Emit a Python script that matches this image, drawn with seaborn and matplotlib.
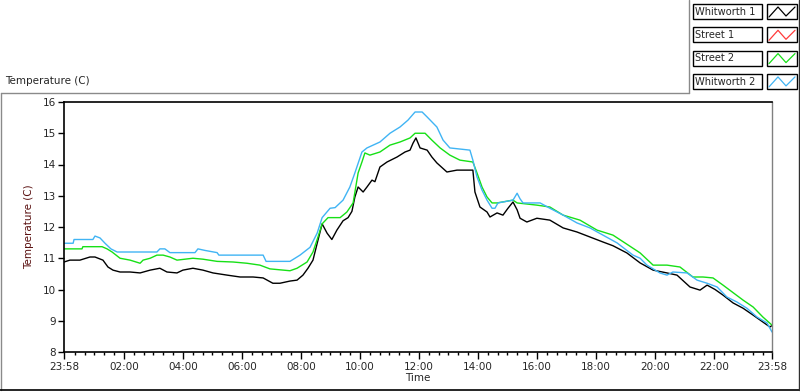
import numpy as np
import pandas as pd
import matplotlib
matplotlib.use("Agg")
import matplotlib.pyplot as plt
from matplotlib.patches import Rectangle
from matplotlib.lines import Line2D
import seaborn as sns

series_names = ["Whitworth 1", "Street 1", "Street 2", "Whitworth 2"]
series_colors = ["#000000", "#ff3b3b", "#16e016", "#40b4f4"]

# time axis: hours elapsed since 23:58
whitworth1_t = [0.00, 0.20, 0.54, 0.88, 1.05, 1.32, 1.49, 1.66, 1.90, 2.24, 2.58, 2.92,
                3.25, 3.49, 3.83, 4.03, 4.37, 4.71, 5.05, 5.53, 5.97, 6.41, 6.75, 7.08,
                7.32, 7.66, 7.90, 8.10, 8.27, 8.44, 8.61, 8.75, 8.92, 9.08, 9.25, 9.46,
                9.63, 9.76, 9.86, 9.97, 10.14, 10.27, 10.44, 10.54, 10.71, 10.95, 11.29,
                11.56, 11.73, 11.83, 11.93, 12.07, 12.31, 12.47, 12.64, 12.98, 13.32,
                13.66, 13.86, 13.93, 14.10, 14.34, 14.44, 14.68, 14.88, 15.05, 15.22,
                15.36, 15.46, 15.69, 16.03, 16.47, 16.92, 17.39, 17.83, 18.27, 18.61,
                19.08, 19.53, 19.97, 20.44, 20.78, 21.22, 21.56, 21.80, 22.07, 22.34,
                22.68, 23.02, 23.36, 23.69, 23.93, 24.00]
whitworth1_v = [10.88, 10.94, 10.94, 11.04, 11.04, 10.94, 10.72, 10.62, 10.56, 10.56, 10.53, 10.62,
                10.68, 10.56, 10.53, 10.62, 10.68, 10.62, 10.53, 10.46, 10.40, 10.40, 10.37, 10.20,
                10.20, 10.27, 10.30, 10.46, 10.68, 10.94, 11.58, 12.10, 11.80, 11.60, 11.90, 12.20,
                12.30, 12.50, 12.96, 13.28, 13.12, 13.28, 13.50, 13.45, 13.92, 14.08, 14.24,
                14.40, 14.46, 14.68, 14.85, 14.53, 14.46, 14.24, 14.05, 13.76, 13.82,
                13.82, 13.82, 13.12, 12.64, 12.48, 12.32, 12.45, 12.38, 12.60, 12.80,
                12.55, 12.28, 12.16, 12.28, 12.22, 11.97, 11.84, 11.68, 11.52, 11.40,
                11.17, 10.85, 10.62, 10.53, 10.46, 10.08, 9.98, 10.14, 10.00, 9.82,
                9.57, 9.40, 9.18, 8.96, 8.80, 8.85]

street1_t = []
street1_v = []

street2_t = [0.00, 0.61, 0.64, 1.29, 1.46, 1.63, 1.90, 2.24, 2.58, 2.68, 2.92, 3.15, 3.36,
             3.59, 3.83, 4.37, 4.71, 5.19, 5.73, 6.20, 6.64, 6.98, 7.66, 7.90, 8.24, 8.44,
             8.61, 8.75, 8.95, 9.36, 9.59, 9.80, 9.97, 10.10, 10.20, 10.37, 10.71, 11.05,
             11.39, 11.73, 11.90, 12.24, 12.47, 12.75, 13.08, 13.42, 13.86, 14.00, 14.17,
             14.34, 14.51, 14.68, 15.22, 15.36, 16.03, 16.47, 16.92, 17.49, 18.07, 18.61,
             19.08, 19.53, 19.97, 20.44, 20.88, 21.32, 21.66, 22.00, 22.34, 22.68, 23.02,
             23.36, 23.69, 24.00]
street2_v = [11.30, 11.30, 11.37, 11.37, 11.30, 11.20, 11.00, 10.94, 10.84, 10.94, 11.00, 11.10, 11.10,
             11.04, 10.94, 11.00, 10.97, 10.90, 10.88, 10.84, 10.78, 10.66, 10.60, 10.68, 10.88, 11.20,
             11.68, 12.10, 12.30, 12.30, 12.48, 12.77, 13.73, 14.08, 14.37, 14.30, 14.40, 14.62,
             14.72, 14.85, 15.00, 15.00, 14.78, 14.53, 14.30, 14.14, 14.08, 13.73, 13.28,
             12.96, 12.77, 12.77, 12.86, 12.77, 12.70, 12.64, 12.38, 12.22, 11.90, 11.74,
             11.45, 11.17, 10.78, 10.78, 10.72, 10.40, 10.40, 10.37, 10.14, 9.90, 9.66,
             9.44, 9.12, 8.86]

whitworth2_t = [0.00, 0.31, 0.34, 0.98, 1.05, 1.22, 1.39, 1.59, 1.80, 3.15, 3.25, 3.42, 3.59,
                4.44, 4.54, 4.78, 5.19, 5.25, 6.75, 6.85, 7.66, 8.00, 8.34, 8.58, 8.75, 9.02,
                9.19, 9.46, 9.69, 9.86, 10.10, 10.27, 10.71, 11.05, 11.39, 11.66, 11.90, 12.14,
                12.31, 12.64, 12.85, 13.08, 13.76, 13.86, 14.00, 14.17, 14.34, 14.51, 14.61,
                14.71, 15.22, 15.36, 15.46, 15.56, 16.14, 16.47, 16.92, 17.39, 17.83, 18.27,
                18.75, 19.08, 19.29, 19.53, 19.76, 20.20, 20.44, 20.64, 21.12, 21.46, 21.80,
                22.14, 22.47, 22.81, 23.15, 23.49, 23.83, 24.00]
whitworth2_v = [11.48, 11.48, 11.60, 11.60, 11.71, 11.65, 11.48, 11.30, 11.20, 11.20, 11.30, 11.30, 11.18,
                11.18, 11.30, 11.25, 11.18, 11.10, 11.10, 10.90, 10.90, 11.10, 11.35, 11.80, 12.30, 12.60,
                12.62, 12.86, 13.28, 13.73, 14.40, 14.53, 14.72, 15.00, 15.20, 15.42, 15.68, 15.68,
                15.52, 15.20, 14.78, 14.53, 14.46, 14.14, 13.60, 13.18, 12.86, 12.60, 12.60,
                12.77, 12.86, 13.08, 12.90, 12.77, 12.77, 12.60, 12.38, 12.13, 11.97, 11.74,
                11.49, 11.25, 11.10, 11.00, 10.78, 10.53, 10.46, 10.56, 10.53, 10.30, 10.20,
                10.08, 9.76, 9.60, 9.40, 9.12, 8.93, 8.64]

x_major_pos = [0.0, 2.0333, 4.0333, 6.0333, 8.0333, 10.0333, 12.0333, 14.0333, 16.0333,
               18.0333, 20.0333, 22.0333, 24.0]
x_major_labels = ["23:58", "02:00", "04:00", "06:00", "08:00", "10:00", "12:00", "14:00",
                  "16:00", "18:00", "20:00", "22:00", "23:58"]
y_ticks = [8, 9, 10, 11, 12, 13, 14, 15, 16]

frames = []
for name, t, v in [("Whitworth 1", whitworth1_t, whitworth1_v),
                   ("Street 1", street1_t, street1_v),
                   ("Street 2", street2_t, street2_v),
                   ("Whitworth 2", whitworth2_t, whitworth2_v)]:
    frames.append(pd.DataFrame({"hours": t, "temp": v, "series": name}))
df = pd.concat([f for f in frames if len(f)], ignore_index=True)
palette = dict(zip(series_names, series_colors))

sns.set_style("white")
plt.rcParams["font.family"] = ["DejaVu Sans"]
fs = 7.5

fig = plt.figure(figsize=(8, 3.92), dpi=100)
ax = fig.add_axes([64 / 800, 40 / 392, 708 / 800, 250 / 392])

for name in series_names:
    sub = df[df["series"] == name]
    if len(sub) == 0:
        continue
    sns.lineplot(data=sub, x="hours", y="temp", color=palette[name], lw=1.0,
                 estimator=None, sort=False, ax=ax)

ax.set_xlim(0, 24)
ax.set_ylim(8, 16)
ax.set_xticks(x_major_pos, x_major_labels)
minor = [m / 3 + 2 / 60 for m in range(1, 72) if m % 6 != 0]
ax.set_xticks(minor, minor=True)
ax.set_yticks(y_ticks, [str(v) for v in y_ticks])
ax.tick_params(axis="both", which="major", direction="out", length=4, width=1,
               color="black", labelsize=fs, pad=2, bottom=True, left=True)
ax.tick_params(axis="x", which="minor", direction="out", length=2.5, width=1,
               color="black", bottom=True)
ax.tick_params(axis="x", which="major", length=5)
for side in ["left", "bottom", "top"]:
    ax.spines[side].set_color("black")
    ax.spines[side].set_linewidth(1.2)
ax.spines["right"].set_color("#808080")
ax.spines["right"].set_linewidth(1.0)
ax.set_xlabel("Time", fontsize=fs, labelpad=1)
ax.set_ylabel("Temperature (C)", fontsize=fs, color="#5a1010", labelpad=6)

# overlay in pixel coordinates for frame and legend
ov = fig.add_axes([0, 0, 1, 1], zorder=5)
ov.set_xlim(0, 800)
ov.set_ylim(392, 0)
ov.axis("off")
gray = "#8a8a8a"
ov.add_line(Line2D([0.5, 689], [92.5, 92.5], color=gray, lw=1))
ov.add_line(Line2D([689, 689], [0, 92.5], color=gray, lw=1))
ov.add_line(Line2D([0.8, 0.8], [92.5, 390], color=gray, lw=1))
ov.add_line(Line2D([0, 800], [390, 390], color="black", lw=1.2))
ov.add_line(Line2D([798.5, 798.5], [0, 390], color="#303030", lw=1))
ov.text(5, 81, "Temperature (C)", fontsize=fs, ha="left", va="center")

for i, name in enumerate(series_names):
    y0 = 4 + i * 23.3
    ov.add_patch(Rectangle((693, y0), 69, 15, facecolor="white", edgecolor="black", lw=1))
    ov.text(695, y0 + 7.8, name, fontsize=7.1, ha="left", va="center")
    ov.add_patch(Rectangle((767, y0), 30, 15, facecolor="white", edgecolor="black", lw=1))
    ov.add_line(Line2D([769, 778, 786, 795], [y0 + 13, y0 + 3, y0 + 12, y0 + 3],
                       color=palette[name], lw=0.9))

fig.savefig("out.png", dpi=100)
